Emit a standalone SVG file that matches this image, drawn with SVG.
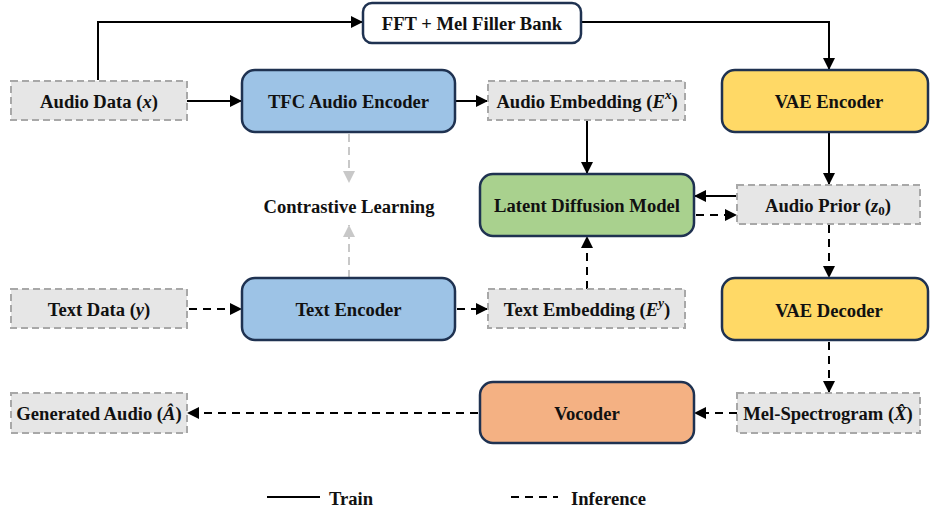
<svg xmlns="http://www.w3.org/2000/svg" width="930" height="511" viewBox="0 0 930 511">
<style>
text{font-family:"Liberation Serif","Times New Roman",serif;font-weight:bold;font-size:18.6px;fill:#111;text-anchor:middle;dominant-baseline:central}
.m{font-style:italic}
.data{fill:#e6e6e6;stroke:#a8a8a8;stroke-width:2;stroke-dasharray:7 4}
.blk{stroke:#1f3251;stroke-width:2.5}
.enc{fill:#9dc3e6}
.vae{fill:#ffd966}
.ldm{fill:#a9d18e}
.voc{fill:#f4b183}
.fft{fill:#fff}
.s{fill:none;stroke:#000;stroke-width:2}
.d{fill:none;stroke:#000;stroke-width:2;stroke-dasharray:8 6}
.g{fill:none;stroke:#c8c8c8;stroke-width:2;stroke-dasharray:8 5}
</style>
<defs>
<marker id="ah" markerUnits="userSpaceOnUse" markerWidth="12" markerHeight="12" viewBox="0 0 12 12" refX="12" refY="6" orient="auto"><path d="M0,0 L12,6 L0,12 Z" fill="#000"/></marker>
<marker id="ahg" markerUnits="userSpaceOnUse" markerWidth="12" markerHeight="12" viewBox="0 0 12 12" refX="12" refY="6" orient="auto"><path d="M0,0 L12,6 L0,12 Z" fill="#c8c8c8"/></marker>
</defs>
<g id="connectors">
<path class="s" d="M98,80 V22 H363" marker-end="url(#ah)"/>
<path class="s" d="M581,22 H829 V70" marker-end="url(#ah)"/>
<path class="s" d="M187,101 H242" marker-end="url(#ah)"/>
<path class="s" d="M455,101 H488" marker-end="url(#ah)"/>
<path class="s" d="M587,120 V174" marker-end="url(#ah)"/>
<path class="s" d="M829,132 V185" marker-end="url(#ah)"/>
<path class="s" d="M737,196 H694" marker-end="url(#ah)"/>
<path class="d" d="M696,215 H737" marker-end="url(#ah)"/>
<path class="g" d="M349,134 V183" marker-end="url(#ahg)"/>
<path class="g" d="M349,278 V225" marker-end="url(#ahg)"/>
<path class="d" d="M189,309 H242" marker-end="url(#ah)"/>
<path class="d" d="M457,309 H488" marker-end="url(#ah)"/>
<path class="d" d="M587,289 V236" marker-end="url(#ah)"/>
<path class="d" d="M829,225 V278" marker-end="url(#ah)"/>
<path class="d" d="M829,342 V393" marker-end="url(#ah)"/>
<path class="d" d="M737,413 H694" marker-end="url(#ah)"/>
<path class="d" d="M478,413 H187" marker-end="url(#ah)"/>
</g>
<g id="fft"><rect class="blk fft" x="363" y="3" width="218" height="40" rx="9"/><text x="472" y="23">FFT + Mel Filler Bank</text></g>
<g id="audio-data"><rect class="data" x="11" y="81" width="176" height="39"/><text x="99" y="101">Audio Data (<tspan class="m">x</tspan>)</text></g>
<g id="tfc-encoder"><rect class="blk enc" x="242" y="70" width="213" height="62" rx="13"/><text x="348.5" y="101">TFC Audio Encoder</text></g>
<g id="audio-embedding"><rect class="data" x="488" y="81" width="197" height="39"/><text x="587" y="101">Audio Embedding (<tspan class="m">E</tspan><tspan class="m" font-size="13" dy="-7">x</tspan><tspan dy="7">)</tspan></text></g>
<g id="vae-encoder"><rect class="blk vae" x="722" y="70" width="206" height="62" rx="13"/><text x="829" y="101">VAE Encoder</text></g>
<g id="contrastive"><text x="349" y="206">Contrastive Learning</text></g>
<g id="ldm"><rect class="blk ldm" x="480" y="174" width="214" height="62" rx="13"/><text x="587" y="205">Latent Diffusion Model</text></g>
<g id="audio-prior"><rect class="data" x="737" y="185" width="183" height="39"/><text x="828" y="205">Audio Prior (<tspan class="m">z</tspan><tspan font-size="13" dy="5">0</tspan><tspan dy="-5">)</tspan></text></g>
<g id="text-data"><rect class="data" x="11" y="289" width="176" height="39"/><text x="99" y="309">Text Data (<tspan class="m">y</tspan>)</text></g>
<g id="text-encoder"><rect class="blk enc" x="242" y="278" width="213" height="62" rx="13"/><text x="348.5" y="309">Text Encoder</text></g>
<g id="text-embedding"><rect class="data" x="488" y="289" width="197" height="39"/><text x="587" y="309">Text Embedding (<tspan class="m">E</tspan><tspan class="m" font-size="13" dy="-7">y</tspan><tspan dy="7">)</tspan></text></g>
<g id="vae-decoder"><rect class="blk vae" x="722" y="278" width="206" height="62" rx="13"/><text x="829" y="310">VAE Decoder</text></g>
<g id="mel"><rect class="data" x="737" y="393" width="183" height="40"/><text x="828" y="413">Mel-Spectrogram (<tspan class="m">X̂</tspan>)</text></g>
<g id="vocoder"><rect class="blk voc" x="480" y="382" width="214" height="61" rx="13"/><text x="587" y="413">Vocoder</text></g>
<g id="generated-audio"><rect class="data" x="11" y="393" width="176" height="40"/><text x="99" y="413">Generated Audio (<tspan class="m">Â</tspan>)</text></g>
<g id="legend">
<path class="s" d="M267,497 H320"/><text x="329" y="498" style="text-anchor:start">Train</text>
<path class="d" d="M511,497 H558"/><text x="571" y="498" style="text-anchor:start">Inference</text>
</g>
</svg>
